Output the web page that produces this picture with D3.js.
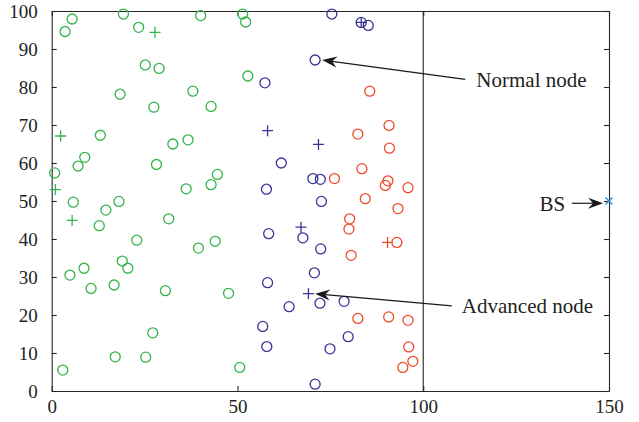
<!DOCTYPE html>
<html><head><meta charset="utf-8">
<script src="https://cdn.jsdelivr.net/npm/d3@7"></script>
<style>body{margin:0;background:#fff}svg{display:block}</style>
</head><body>
<script>
// ---- data ----
const xTickValues = [0, 50, 100, 150];
const yTickValues = [0, 10, 20, 30, 40, 50, 60, 70, 80, 90, 100];
const boundaryX = 100;

const greenNormal = [[5.5,97.9],[3.6,94.6],[19.3,99.2],[23.4,95.7],[40.1,98.8],[25.2,85.8],[28.9,84.9],[18.4,78.1],[38.0,78.9],[27.5,74.7],[42.9,74.9],[13.1,67.3],[32.6,65.0],[36.7,66.1],[8.9,61.5],[7.1,59.2],[28.2,59.6],[0.8,57.4],[44.6,57.0],[42.9,54.3],[36.2,53.2],[5.8,49.7],[18.1,49.9],[14.6,47.6],[12.8,43.5],[31.5,45.3],[22.9,39.7],[39.5,37.6],[44.0,39.4],[19.0,34.2],[20.5,32.3],[8.7,32.3],[4.9,30.5],[10.6,27.0],[16.8,27.9],[30.6,26.4],[47.6,25.7],[27.2,15.3],[17.1,9.0],[25.3,8.9],[3.0,5.5],[50.6,6.2],[51.4,99.2],[52.2,97.1],[52.8,82.9]];
const greenAdvanced = [[27.8,94.4],[2.4,67.1],[1.0,53.0],[5.5,44.9]];
const blueNormal = [[75.4,99.2],[83.3,97.0],[85.2,96.2],[70.9,87.1],[57.4,81.1],[61.8,60.0],[70.3,55.9],[72.3,55.7],[57.8,53.1],[72.6,49.9],[58.4,41.4],[67.6,40.3],[72.4,37.4],[70.7,31.1],[58.1,28.5],[72.2,23.1],[78.7,23.6],[63.9,22.2],[56.8,17.0],[79.8,14.3],[57.9,11.7],[74.9,11.1],[70.9,1.8]];
const blueAdvanced = [[83.3,97.0],[58.1,68.5],[71.8,64.9],[67.1,43.1],[69.1,25.6]];
const redNormal = [[85.6,78.9],[90.8,69.9],[82.4,67.6],[90.9,63.9],[83.5,58.5],[76.1,55.9],[90.5,55.3],[89.8,54.1],[95.9,53.5],[84.4,50.6],[93.2,48.0],[80.2,45.3],[80.0,42.6],[92.9,39.1],[80.6,35.7],[82.4,19.1],[90.7,19.5],[95.9,18.6],[96.1,11.6],[97.2,7.8],[94.5,6.2]];
const redAdvanced = [[90.4,39.1]];
const baseStation = [150, 50];

const labels = ["Normal node", "Advanced node", "BS"];
// annotation anchors in data units: [textX, textY, arrowFromX, arrowFromY, arrowToX, arrowToY]
const annotations = [
  [114.3, 80.1, 111.3, 82.0, 72.8, 87.1],
  [110.4, 20.5, 107.7, 22.4, 70.9, 25.6],
  [138.2, 47.4, 140.0, 49.4, 148.4, 49.4]
];

// ---- layout ----
const W = 639, H = 422;
const mLeft = 51.7, mRight = 609, mTop = 11, mBottom = 391;
const colors = {green: "#35b44a", blue: "#3a3496", red: "#f04a2c", bs: "#2b8bd2", axis: "#262626"};

const svg = d3.select("body").append("svg").attr("width", W).attr("height", H);
const x = d3.scaleLinear().domain([0, 150]).range([mLeft, mRight]);
const y = d3.scaleLinear().domain([0, 100]).range([mBottom, mTop]);

const font = "'Liberation Serif', 'DejaVu Serif', serif";

// axes (inward ticks, box)
const axB = svg.append("g").attr("transform", `translate(0,${mBottom})`)
  .call(d3.axisBottom(x).tickValues(xTickValues).tickSizeInner(-5).tickSizeOuter(0).tickPadding(12).tickFormat(d3.format("d")));
const axT = svg.append("g").attr("transform", `translate(0,${mTop})`)
  .call(d3.axisTop(x).tickValues(xTickValues).tickSizeInner(-5).tickSizeOuter(0).tickFormat(""));
const axL = svg.append("g").attr("transform", `translate(${mLeft},0)`)
  .call(d3.axisLeft(y).tickValues(yTickValues).tickSizeInner(-5).tickSizeOuter(0).tickPadding(14).tickFormat(d3.format("d")));
const axR = svg.append("g").attr("transform", `translate(${mRight},0)`)
  .call(d3.axisRight(y).tickValues(yTickValues).tickSizeInner(-5).tickSizeOuter(0).tickFormat(""));
[axB, axT, axL, axR].forEach(a => {
  a.selectAll("path,line").attr("stroke", colors.axis).attr("stroke-width", 1.1);
  a.selectAll("text").attr("font-family", font).attr("font-size", 19).attr("fill", "#231f20");
});
axB.selectAll("text").attr("dy", "0.55em");

// boundary line
svg.append("line").attr("x1", x(boundaryX)).attr("x2", x(boundaryX)).attr("y1", y(0)).attr("y2", y(100))
  .attr("stroke", colors.axis).attr("stroke-width", 1.1);

// markers
function circles(data, color) {
  svg.append("g").selectAll("circle").data(data).join("circle")
    .attr("cx", d => x(d[0])).attr("cy", d => y(d[1])).attr("r", 5)
    .attr("fill", "none").attr("stroke", color).attr("stroke-width", 1.3);
}
function pluses(data, color) {
  const s = 5.5;
  svg.append("g").selectAll("path").data(data).join("path")
    .attr("d", d => `M${x(d[0]) - s},${y(d[1])}H${x(d[0]) + s}M${x(d[0])},${y(d[1]) - s}V${y(d[1]) + s}`)
    .attr("fill", "none").attr("stroke", color).attr("stroke-width", 1.3);
}
circles(greenNormal, colors.green);
pluses(greenAdvanced, colors.green);
circles(blueNormal, colors.blue);
pluses(blueAdvanced, colors.blue);
circles(redNormal, colors.red);
pluses(redAdvanced, colors.red);
{
  const s = 3.5, bx = x(baseStation[0]), by = y(baseStation[1]);
  svg.append("path").attr("d", `M${bx - s},${by - s}L${bx + s},${by + s}M${bx - s},${by + s}L${bx + s},${by - s}`)
    .attr("stroke", colors.bs).attr("stroke-width", 1.4).attr("fill", "none");
}

// annotations
annotations.forEach((a, i) => {
  const [tx, ty, fx, fy, ex, ey] = a;
  const x1 = x(fx), y1 = y(fy), x2 = x(ex), y2 = y(ey);
  const ang = Math.atan2(y2 - y1, x2 - x1);
  const L = 15, hw = 5.5, notch = 10;
  const ux = Math.cos(ang), uy = Math.sin(ang), px = -uy, py = ux;
  const bx = x2 - ux * L, by = y2 - uy * L;
  const nx = x2 - ux * notch, ny = y2 - uy * notch;
  svg.append("line").attr("x1", x1).attr("y1", y1).attr("x2", nx).attr("y2", ny)
    .attr("stroke", "#1a1a1a").attr("stroke-width", 1.2);
  svg.append("path")
    .attr("d", `M${x2},${y2}L${bx + px * hw},${by + py * hw}L${nx},${ny}L${bx - px * hw},${by - py * hw}Z`)
    .attr("fill", "#1a1a1a");
  svg.append("text").attr("x", x(tx)).attr("y", y(ty))
    .attr("text-anchor", i === 2 ? "end" : "start")
    .attr("font-family", font).attr("font-size", 21).attr("fill", "#231f20")
    .text(labels[i]);
});
</script>
</body></html>
